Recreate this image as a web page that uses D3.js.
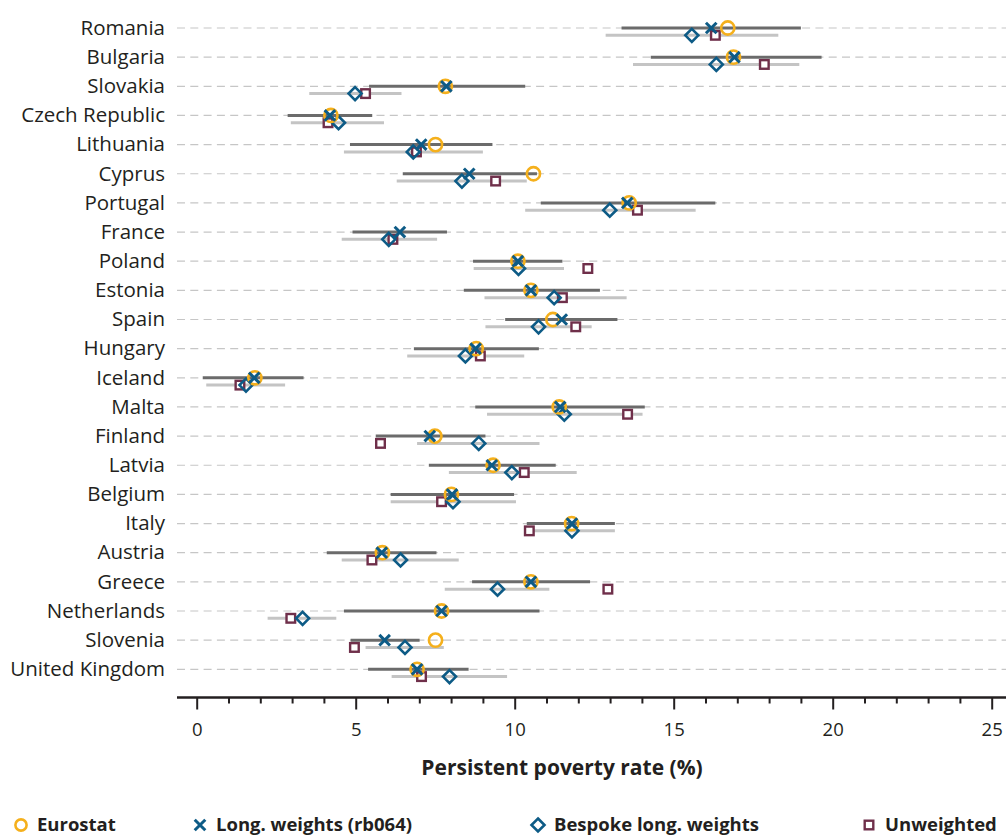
<!DOCTYPE html>
<html>
<head>
<meta charset="utf-8">
<script src="https://cdn.jsdelivr.net/npm/d3@7/dist/d3.min.js"></script>
<style>
  html, body { margin: 0; padding: 0; background: #fff; }
  svg { display: block; }
  text { font-family: "Open Sans", "Noto Sans", sans-serif; fill: #231f20; }
</style>
</head>
<body>
<svg id="chart" width="1006" height="839"></svg>
<script>
// Countries, top to bottom
const countries = ["Romania", "Bulgaria", "Slovakia", "Czech Republic", "Lithuania", "Cyprus",
  "Portugal", "France", "Poland", "Estonia", "Spain", "Hungary", "Iceland", "Malta", "Finland",
  "Latvia", "Belgium", "Italy", "Austria", "Greece", "Netherlands", "Slovenia", "United Kingdom"];

// Persistent poverty rate (%) estimates
const eurostat   = [16.70, 16.88, 7.82, 4.22, 7.51, 10.59, 13.60, null, 10.10, 10.51, 11.20, 8.79, 1.83, 11.40, 7.49, 9.32, 8.01, 11.79, 5.84, 10.51, 7.70, 7.51, 6.93];
const longW      = [16.18, 16.91, 7.85, 4.19, 7.06, 8.57, 13.54, 6.39, 10.10, 10.51, 11.48, 8.77, 1.81, 11.43, 7.33, 9.28, 8.03, 11.80, 5.82, 10.51, 7.70, 5.91, 6.93];
const longWLo    = [13.36, 14.28, 5.42, 2.86, 4.82, 6.48, 10.82, 4.90, 8.69, 8.40, 9.70, 6.83, 0.19, 8.76, 5.63, 7.30, 6.10, 10.38, 4.09, 8.66, 4.63, 4.84, 5.39];
const longWHi    = [19.00, 19.65, 10.33, 5.52, 9.30, 10.70, 16.31, 7.87, 11.50, 12.68, 13.23, 10.76, 3.36, 14.09, 9.08, 11.29, 9.98, 13.15, 7.54, 12.37, 10.78, 7.01, 8.55];
const bespoke    = [15.57, 16.34, 4.98, 4.46, 6.81, 8.34, 12.99, 6.04, 10.12, 11.24, 10.75, 8.45, 1.55, 11.56, 8.87, 9.91, 8.06, 11.80, 6.41, 9.46, 3.33, 6.55, 7.95];
const bespokeLo  = [12.86, 13.72, 3.54, 2.96, 4.63, 6.29, 10.33, 4.56, 8.71, 9.05, 9.08, 6.62, 0.30, 9.13, 6.93, 7.93, 6.10, 10.45, 4.56, 7.80, 2.23, 5.31, 6.13];
const bespokeHi  = [18.29, 18.95, 6.44, 5.89, 9.00, 10.38, 15.69, 7.56, 11.55, 13.52, 12.42, 10.30, 2.78, 14.02, 10.78, 11.95, 10.04, 13.15, 8.24, 11.09, 4.39, 7.77, 9.76];
const unweighted = [16.31, 17.85, 5.31, 4.13, 6.91, 9.40, 13.86, 6.17, 12.30, 11.50, 11.92, 8.92, 1.36, 13.55, 5.78, 10.30, 7.70, 10.46, 5.51, 12.93, 2.96, 4.96, 7.07];

const majorTicks = [0, 5, 10, 15, 20, 25];
const minorTicks = d3.range(0, 26, 1).filter(v => v % 5 !== 0);

const legendItems = [
  { key: "eurostat", label: "Eurostat" },
  { key: "longW", label: "Long. weights (rb064)" },
  { key: "bespoke", label: "Bespoke long. weights" },
  { key: "unweighted", label: "Unweighted" }
];

const colors = {
  eurostat: "#f5b01c",
  longW: "#0d5b86",
  bespoke: "#0d5b86",
  unweighted: "#6f2f4a",
  ciDark: "#6b6b6b",
  ciLight: "#c4c4c4",
  grid: "#c6c6c6"
};

const svg = d3.select("#chart");
const W = 1006;
const plotLeft = 177;
const axisY = 697.5;
const subOffset = 7.3;

const x = d3.scaleLinear().domain([0, 25]).range([196.7, 991.7]);
const y = d3.scalePoint().domain(countries).range([28, 669.3]);

const rows = countries.map((c, i) => ({
  country: c, eurostat: eurostat[i], longW: longW[i], longWLo: longWLo[i], longWHi: longWHi[i],
  bespoke: bespoke[i], bespokeLo: bespokeLo[i], bespokeHi: bespokeHi[i], unweighted: unweighted[i]
}));

// Dashed row guides
svg.append("g").selectAll("line").data(countries).join("line")
  .attr("x1", plotLeft).attr("x2", W)
  .attr("y1", d => y(d)).attr("y2", d => y(d))
  .attr("stroke", colors.grid).attr("stroke-width", 1.2)
  .attr("stroke-dasharray", "8,5.3");

// Country labels
svg.append("g").selectAll("text").data(countries).join("text")
  .attr("x", 165).attr("y", d => y(d))
  .attr("dy", "0.33em")
  .attr("text-anchor", "end")
  .style("font-size", "20.5px")
  .text(d => d);

// Confidence intervals
svg.append("g").selectAll("line").data(rows).join("line")
  .attr("x1", d => x(d.bespokeLo)).attr("x2", d => x(d.bespokeHi))
  .attr("y1", d => y(d.country) + subOffset).attr("y2", d => y(d.country) + subOffset)
  .attr("stroke", colors.ciLight).attr("stroke-width", 3);

svg.append("g").selectAll("line").data(rows).join("line")
  .attr("x1", d => x(d.longWLo)).attr("x2", d => x(d.longWHi))
  .attr("y1", d => y(d.country)).attr("y2", d => y(d.country))
  .attr("stroke", colors.ciDark).attr("stroke-width", 3);

// Marker shapes
function drawMarker(g, key) {
  if (key === "eurostat") {
    g.append("circle").attr("r", 6.6).attr("fill", "none")
      .attr("stroke", colors.eurostat).attr("stroke-width", 2.6);
  } else if (key === "longW") {
    g.append("path").attr("d", "M-5.3,-5.3L5.3,5.3M-5.3,5.3L5.3,-5.3")
      .attr("fill", "none").attr("stroke", colors.longW).attr("stroke-width", 3);
  } else if (key === "bespoke") {
    g.append("path").attr("d", "M0,-6.5L6.5,0L0,6.5L-6.5,0Z")
      .attr("fill", "none").attr("stroke", colors.bespoke).attr("stroke-width", 2.6);
  } else if (key === "unweighted") {
    g.append("rect").attr("x", -4.3).attr("y", -4.3).attr("width", 8.6).attr("height", 8.6)
      .attr("fill", "#fff").attr("stroke", colors.unweighted).attr("stroke-width", 2.4);
  }
}

const markerLayers = [
  { key: "unweighted", offset: subOffset },
  { key: "bespoke", offset: subOffset },
  { key: "eurostat", offset: 0 },
  { key: "longW", offset: 0 }
];

markerLayers.forEach(layer => {
  svg.append("g").selectAll("g").data(rows.filter(d => d[layer.key] != null)).join("g")
    .attr("transform", d => `translate(${x(d[layer.key])},${y(d.country) + layer.offset})`)
    .each(function () { drawMarker(d3.select(this), layer.key); });
});

// X axis
svg.append("line")
  .attr("x1", plotLeft).attr("x2", W).attr("y1", axisY).attr("y2", axisY)
  .attr("stroke", "#231f20").attr("stroke-width", 2.6);

const majorAxis = svg.append("g").attr("transform", `translate(0,${axisY})`)
  .call(d3.axisBottom(x).tickValues(majorTicks).tickSize(12).tickPadding(13).tickFormat(d3.format("d")));
const minorAxis = svg.append("g").attr("transform", `translate(0,${axisY})`)
  .call(d3.axisBottom(x).tickValues(minorTicks).tickSize(6).tickFormat(""));

[majorAxis, minorAxis].forEach(a => {
  a.select(".domain").remove();
  a.selectAll(".tick line").attr("stroke", "#231f20").attr("stroke-width", 2);
});
majorAxis.selectAll(".tick text")
  .style("font-size", "18.5px").style("font-family", "'Open Sans', sans-serif").attr("fill", "#231f20");

svg.append("text")
  .attr("x", 562).attr("y", 768).attr("dy", "0.35em")
  .attr("text-anchor", "middle")
  .style("font-size", "21px").style("font-weight", "700")
  .text("Persistent poverty rate (%)");

// Legend
const legendX = { eurostat: 21, longW: 200, bespoke: 538, unweighted: 869 };
const legendY = 825;
const legend = svg.append("g").selectAll("g").data(legendItems).join("g")
  .attr("transform", d => `translate(${legendX[d.key]},${legendY})`);
legend.each(function (d) {
  const g = d3.select(this);
  const m = g.append("g");
  drawMarker(m, d.key);
  if (d.key === "eurostat") m.select("circle").attr("r", 5.6);
  g.append("text").attr("x", 16).attr("dy", "0.35em")
    .style("font-size", "18.5px").style("font-weight", "700")
    .text(d.label);
});
</script>
</body>
</html>
